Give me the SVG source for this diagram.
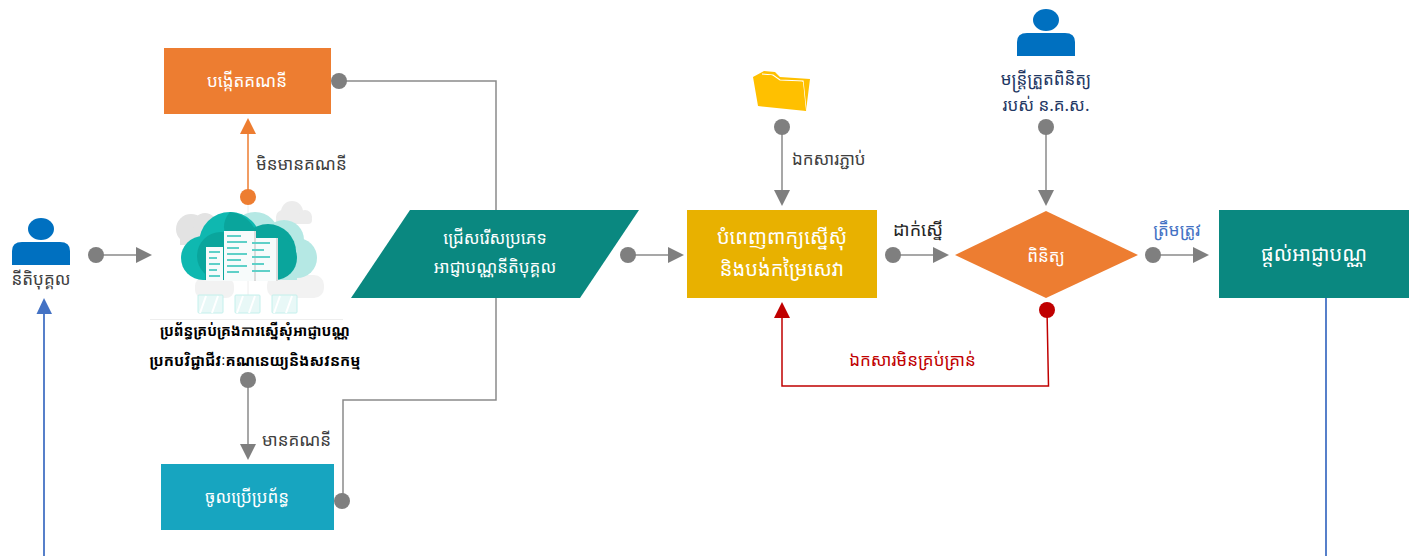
<svg xmlns="http://www.w3.org/2000/svg" width="1416" height="556" viewBox="0 0 1416 556">
<style>
text{font-family:"Noto Sans Khmer","Khmer OS","Noto Sans","DejaVu Sans",sans-serif;font-size:17px;text-anchor:middle;fill:#404040}
.w{fill:#fff}
.big{font-size:20px}
.l{text-anchor:start}
.b{font-weight:bold;fill:#000;font-size:15px}
.ln{fill:none;stroke:#8a8a8a;stroke-width:1.5}
.dot{fill:#7f7f7f}
.head{fill:#7f7f7f}
</style>
<defs>
<g id="person"><ellipse cx="0" cy="-36" rx="13" ry="11" fill="#0070c0"/><path d="M-29 0V-14Q-29 -23 -19 -23H19Q29 -23 29 -14V0Z" fill="#0070c0"/></g>
</defs>
<rect width="1416" height="556" fill="#fff"/>
<g id="connectors">
<path class="ln" d="M96 255H136"/><circle class="dot" cx="96" cy="255" r="8"/><path class="head" d="M136 247L152 255L136 263Z"/>
<path d="M248 196V133" fill="none" stroke="#ed7d31" stroke-width="1.5"/><circle cx="248" cy="197" r="8" fill="#ed7d31"/><path d="M240 134L248 118L256 134Z" fill="#ed7d31"/>
<path class="ln" d="M339 81H496V400H343V501"/><circle class="dot" cx="339" cy="81" r="8"/><circle class="dot" cx="342" cy="501" r="8"/>
<path class="ln" d="M248 380V444"/><circle class="dot" cx="248" cy="380" r="8"/><path class="head" d="M240 444L248 460L256 444Z"/>
<path class="ln" d="M628 255H668"/><circle class="dot" cx="628" cy="255" r="8"/><path class="head" d="M668 247L684 255L668 263Z"/>
<path class="ln" d="M782 127V190"/><circle class="dot" cx="782" cy="127" r="8"/><path class="head" d="M774 190L782 206L790 190Z"/>
<path class="ln" d="M1046 127V190"/><circle class="dot" cx="1046" cy="127" r="8"/><path class="head" d="M1038 190L1046 206L1054 190Z"/>
<path class="ln" d="M893 255H933"/><circle class="dot" cx="893" cy="255" r="8"/><path class="head" d="M933 247L949 255L933 263Z"/>
<path class="ln" d="M1153 255H1193"/><circle class="dot" cx="1153" cy="255" r="8"/><path class="head" d="M1193 247L1209 255L1193 263Z"/>
<path d="M1047 310L1048.500 386H782V318" fill="none" stroke="#c00000" stroke-width="1.5"/><circle cx="1047" cy="310" r="8" fill="#c00000"/><path d="M774 318L782 302L790 318Z" fill="#c00000"/>
<path d="M44 556V314" fill="none" stroke="#4472c4" stroke-width="1.8"/><path d="M36.500 314L44 298L52 314Z" fill="#4472c4"/>
<path d="M1326 298V556" fill="none" stroke="#4472c4" stroke-width="1.8"/>
</g>
<g id="n-legal"><use href="#person" x="41" y="265"/><text x="41" y="285">នីតិបុគ្គល</text></g>
<g id="n-create"><rect x="164" y="48" width="167" height="66" fill="#ed7d31"/><text class="w" x="247" y="87">បង្កើតគណនី</text></g>
<g id="n-login"><rect x="161" y="464" width="173" height="66" fill="#17a5c0"/><text class="w" x="247" y="503">ចូលប្រើប្រព័ន្ធ</text></g>
<g id="n-system">
<path d="M248 205V300M150 319.500H343" stroke="#eeeeee" stroke-width="1" fill="none"/>
<g fill="#e3e3e3"><circle cx="191" cy="229" r="15"/><circle cx="205" cy="225" r="12"/><rect x="180" y="228" width="30" height="17"/></g>
<g fill="#ececec"><circle cx="292" cy="212" r="11"/><circle cx="305" cy="217" r="7"/><circle cx="283" cy="217" r="7"/><rect x="276" y="215" width="36" height="9" rx="4"/></g>
<g fill="#f2f2f2"><rect x="195" y="278" width="39" height="20" rx="8"/><rect x="267" y="275" width="57" height="23" rx="10"/></g>
<g fill="#b5e8e4"><circle cx="255" cy="236" r="24"/><circle cx="284" cy="240" r="20"/><circle cx="297" cy="258" r="20"/><rect x="250" y="245" width="47" height="35"/></g>
<g fill="#0fb8b0"><circle cx="203" cy="258" r="22"/><circle cx="230" cy="243" r="31"/><rect x="203" y="240" width="70" height="40"/></g>
<g fill="#0aa59c"><circle cx="268" cy="252" r="28"/><circle cx="275" cy="258" r="22"/><circle cx="221" cy="256" r="24"/><rect x="205" y="256" width="70" height="24"/><path d="M230 212a31 31 0 0 1 26 20l-26 10q-12-16 0-30z"/></g>
<rect x="206" y="247" width="17" height="34" fill="#f7fbfb"/><rect x="224" y="231" width="31" height="50" fill="#f7fbfb"/><rect x="249" y="238" width="28" height="43" fill="#f7fbfb"/>
<path d="M255 231v50M277 238v43" stroke="#dcdcdc" stroke-width="2"/>
<path d="M209 252h11M209 258h8M209 264h11M209 270h8M209 276h11M227 236h14M227 242h20M227 248h12M227 254h20M227 260h14M227 266h20M227 272h12M252 243h18M252 250h12M252 257h18M252 264h12M252 271h18" stroke="#5fd0c8" stroke-width="2"/>
<g fill="#e8f8f7" stroke="#c4f0ec" stroke-width="1"><rect x="198" y="295" width="25" height="18" rx="1"/><rect x="235" y="295" width="25" height="18" rx="1"/><rect x="272" y="295" width="25" height="18" rx="1"/></g>
<path d="M200 313l6-17M212 313l6-17M237 313l6-17M249 313l6-17M274 313l6-17M286 313l6-17" stroke="#fff" stroke-width="2"/>
<text class="b" x="255" y="336" style="font-size:14.500px">ប្រព័ន្ធគ្រប់គ្រងការស្នើសុំអាជ្ញាបណ្ណ</text>
<text class="b" x="255" y="366">ប្រកបវិជ្ជាជីវៈគណនេយ្យនិងសវនកម្ម</text>
</g>
<g id="n-select"><path d="M410 210H639L580 298H351Z" fill="#0a8880"/><text class="w" x="495" y="244">ជ្រើសរើសប្រភេទ</text><text class="w" x="495" y="273">អាជ្ញាបណ្ណនីតិបុគ្គល</text></g>
<g id="n-folder"><path d="M753 77L764 71L775 72L780 77L810 79L806 111Z" fill="#ffc000"/><path d="M762 74L773 75L780 80L803 81L806 110" fill="none" stroke="#fff" stroke-width="1.2"/><path d="M753 77L771 75L778 81L803 82L806 111L758 106Z" fill="#ffc000"/></g>
<g id="n-fill"><rect x="687" y="210" width="190" height="88" fill="#e8b100"/><text class="w big" x="782" y="244">បំពេញពាក្យស្នើសុំ</text><text class="w big" x="782" y="276">និងបង់កម្រៃសេវា</text></g>
<g id="n-review"><path d="M1046 211L1138 255L1046 298L955 255Z" fill="#ed7d31"/><text class="w" x="1046" y="262">ពិនិត្យ</text></g>
<g id="n-grant"><rect x="1219" y="210" width="190" height="88" fill="#0a8880"/><text class="w big" x="1314" y="261">ផ្តល់អាជ្ញាបណ្ណ</text></g>
<g id="n-officer"><use href="#person" x="1046" y="56"/><text x="1046" y="85" style="fill:#1f3864">មន្ត្រីត្រួតពិនិត្យ</text><text x="1046" y="111" style="fill:#1f3864">របស់ ន.គ.ស.</text></g>
<g id="labels">
<text class="l" x="256" y="170">មិនមានគណនី</text>
<text class="l" x="262" y="446">មានគណនី</text>
<text class="l" x="792" y="165">ឯកសារភ្ជាប់</text>
<text x="918" y="236" style="fill:#262626;font-size:18px">ដាក់ស្នើ</text>
<text x="1177" y="236" style="fill:#4472c4">ត្រឹមត្រូវ</text>
<text x="912.500" y="366" style="fill:#c00000">ឯកសារមិនគ្រប់គ្រាន់</text>
</g>
</svg>
